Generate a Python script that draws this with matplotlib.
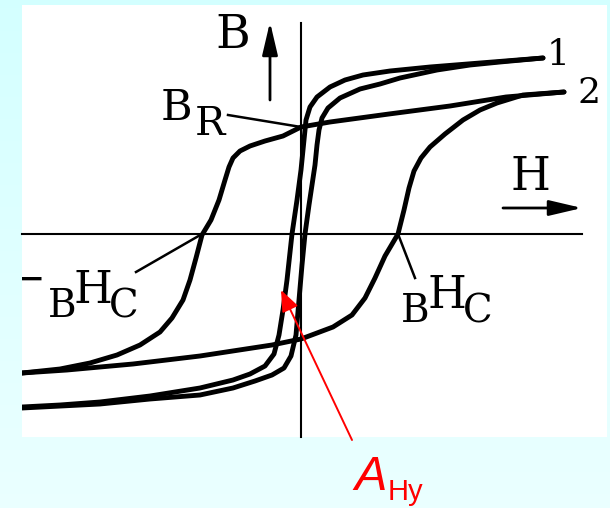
import numpy as np
import matplotlib.pyplot as plt
from matplotlib.patches import Rectangle, FancyArrowPatch

# loop 1: soft material, narrow loop (H, B)
h1_down = [24.2, 17.9, 12.9, 8.9, 6.2, 4.4, 2.9, 1.6, 0.9, 0.5, 0.3, 0.0, -0.4, -0.9,
           -1.4, -1.8, -2.2, -2.7, -3.6, -5.1, -6.8, -10.1, -15.1, -20.1, -24.1, -27.9]
b1_down = [17.6, 17.1, 16.7, 16.3, 15.9, 15.4, 14.7, 13.7, 12.7, 11.4, 9.4, 6.4, 3.4, 0.0,
           -4.6, -7.6, -10.1, -12.0, -13.2, -14.0, -14.6, -15.4, -16.2, -16.8, -17.1, -17.3]
h1_up = [-27.9, -20.1, -15.1, -10.1, -6.8, -4.6, -2.9, -1.7, -1.0, -0.5, -0.2, 0.1, 0.4, 0.8,
         1.1, 1.4, 1.6, 1.8, 2.1, 2.7, 3.9, 5.9, 7.9, 9.9, 13.6, 16.9, 19.9, 24.2]
b1_up = [-17.4, -17.0, -16.5, -16.1, -15.4, -14.7, -14.1, -13.4, -12.2, -10.1, -6.6, -3.1, 0.0, 2.9,
         4.9, 6.9, 8.9, 10.4, 11.6, 12.6, 13.6, 14.5, 15.0, 15.6, 16.4, 16.9, 17.2, 17.6]

# loop 2: hard material, wide loop
h2_down = [26.3, 20.5, 14.9, 8.8, 2.9, 0.0, -1.8, -3.6, -5.1, -6.1, -6.8, -7.2, -7.6, -8.2, -9.0,
           -9.9, -10.5, -11.1, -11.8, -12.9, -14.1, -16.1, -18.4, -21.1, -24.1, -27.9]
b2_down = [14.2, 13.7, 12.8, 12.0, 11.2, 10.7, 9.8, 9.3, 8.8, 8.3, 7.6, 6.7, 5.4, 3.4, 1.4,
           -0.1, -2.4, -4.6, -6.6, -8.4, -9.8, -11.1, -12.1, -12.9, -13.5, -13.9]
h2_up = [-27.9, -23.4, -16.8, -10.1, -2.9, 0.0, 3.2, 5.1, 6.4, 7.4, 8.4, 9.7, 10.3, 10.8,
         11.3, 12.0, 12.9, 14.4, 16.2, 17.9, 19.6, 22.2, 26.3]
b2_up = [-13.9, -13.6, -13.0, -12.2, -11.1, -10.5, -9.3, -8.1, -6.4, -4.4, -2.2, 0.0, 2.4, 4.6,
         6.3, 7.6, 8.7, 10.0, 11.4, 12.4, 13.1, 13.9, 14.2]

B_R = 10.7
HC_neg = -9.9
HC_pos = 9.7

fig = plt.figure(figsize=(6.1, 5.08), dpi=100)
ax = fig.add_axes([0, 0, 1, 1])
X0, X1, Y0, Y1 = -30.1, 30.9, -27.4, 23.4
ax.set_xlim(X0, X1)
ax.set_ylim(Y0, Y1)
ax.axis('off')

# pale cyan slide background
grad = np.linspace(0, 1, 256)[:, None]
c_top = np.array([0.83, 1.0, 1.0])
c_bot = np.array([0.92, 1.0, 1.0])
bg = c_top + grad * (c_bot - c_top)
ax.imshow(bg[:, None, :].repeat(2, axis=1), extent=[X0, X1, Y0, Y1], aspect='auto', zorder=0)

panel = Rectangle((-27.9, -20.3), 58.5, 43.2, facecolor='white', edgecolor='none', zorder=1)
ax.add_patch(panel)

# axes
ax.plot([0, 0], [-20.3, 21.1], color='black', lw=1.5, zorder=2)
ax.plot([-27.9, 28.1], [0, 0], color='black', lw=1.5, zorder=2)

curve_kw = dict(color='black', lw=3.5, solid_capstyle='round', solid_joinstyle='round', zorder=3)
for h, b in [(h1_down, b1_down), (h1_up, b1_up), (h2_down, b2_down), (h2_up, b2_up)]:
    line, = ax.plot(h, b, **curve_kw)
    line.set_clip_path(panel)

# direction arrows for B and H
for tail, tip in [((-3.1, 13.4), (-3.1, 21.2)), ((20.2, 2.6), (28.1, 2.6))]:
    ax.add_patch(FancyArrowPatch(tail, tip, arrowstyle='-|>,head_length=20,head_width=4.7',
                                 mutation_scale=1, color='black', lw=2.0,
                                 shrinkA=0, shrinkB=0, zorder=3))

# leader lines
lead = dict(color='black', lw=1.8, zorder=3)
ax.plot([-7.3, 0.0], [11.9, B_R], **lead)
ax.plot([-16.5, HC_neg], [-3.8, 0.0], **lead)
ax.plot([HC_pos, 11.4], [0.0, -4.4], **lead)

serif = dict(family='DejaVu Serif', color='black', va='baseline', ha='center', zorder=4)
ax.text(-6.85, 18.6, 'B', fontsize=34, **serif)
ax.text(-12.5, 11.4, 'B', fontsize=31, **serif)
ax.text(-9.1, 9.9, 'R', fontsize=29, **serif)
ax.text(25.7, 16.9, '1', fontsize=26, **serif)
ax.text(28.8, 13.1, '2', fontsize=26, **serif)
ax.text(22.9, 4.4, 'H', fontsize=33, **serif)

minus = ax.text(-25.6, -5.8, '\u2212', fontsize=30, family='DejaVu Serif',
                ha='right', va='baseline', zorder=4, clip_on=True)
minus.set_clip_path(panel)
ax.text(-23.9, -8.3, 'B', fontsize=28, **serif)
ax.text(-20.85, -6.9, 'H', fontsize=32, **serif)
ax.text(-17.7, -8.3, 'C', fontsize=28, **serif)
ax.text(11.45, -8.8, 'B', fontsize=28, **serif)
ax.text(14.6, -7.4, 'H', fontsize=32, **serif)
ax.text(17.65, -8.8, 'C', fontsize=28, **serif)

# red pointer to the soft-magnetic loop
ax.add_patch(FancyArrowPatch((5.1, -20.6), (-2.0, -5.6),
                             arrowstyle='-|>,head_length=13,head_width=5.2',
                             mutation_scale=1, color='red', lw=1.4,
                             shrinkA=0, shrinkB=0, zorder=4))
ax.text(5.3, -25.6, 'A', fontsize=35, family='Liberation Sans', style='italic',
        color='red', ha='left', va='baseline', zorder=4)
ax.text(8.7, -26.6, 'Hy', fontsize=21, family='Liberation Sans',
        color='red', ha='left', va='baseline', zorder=4)

fig.savefig('out.png', dpi=100)
